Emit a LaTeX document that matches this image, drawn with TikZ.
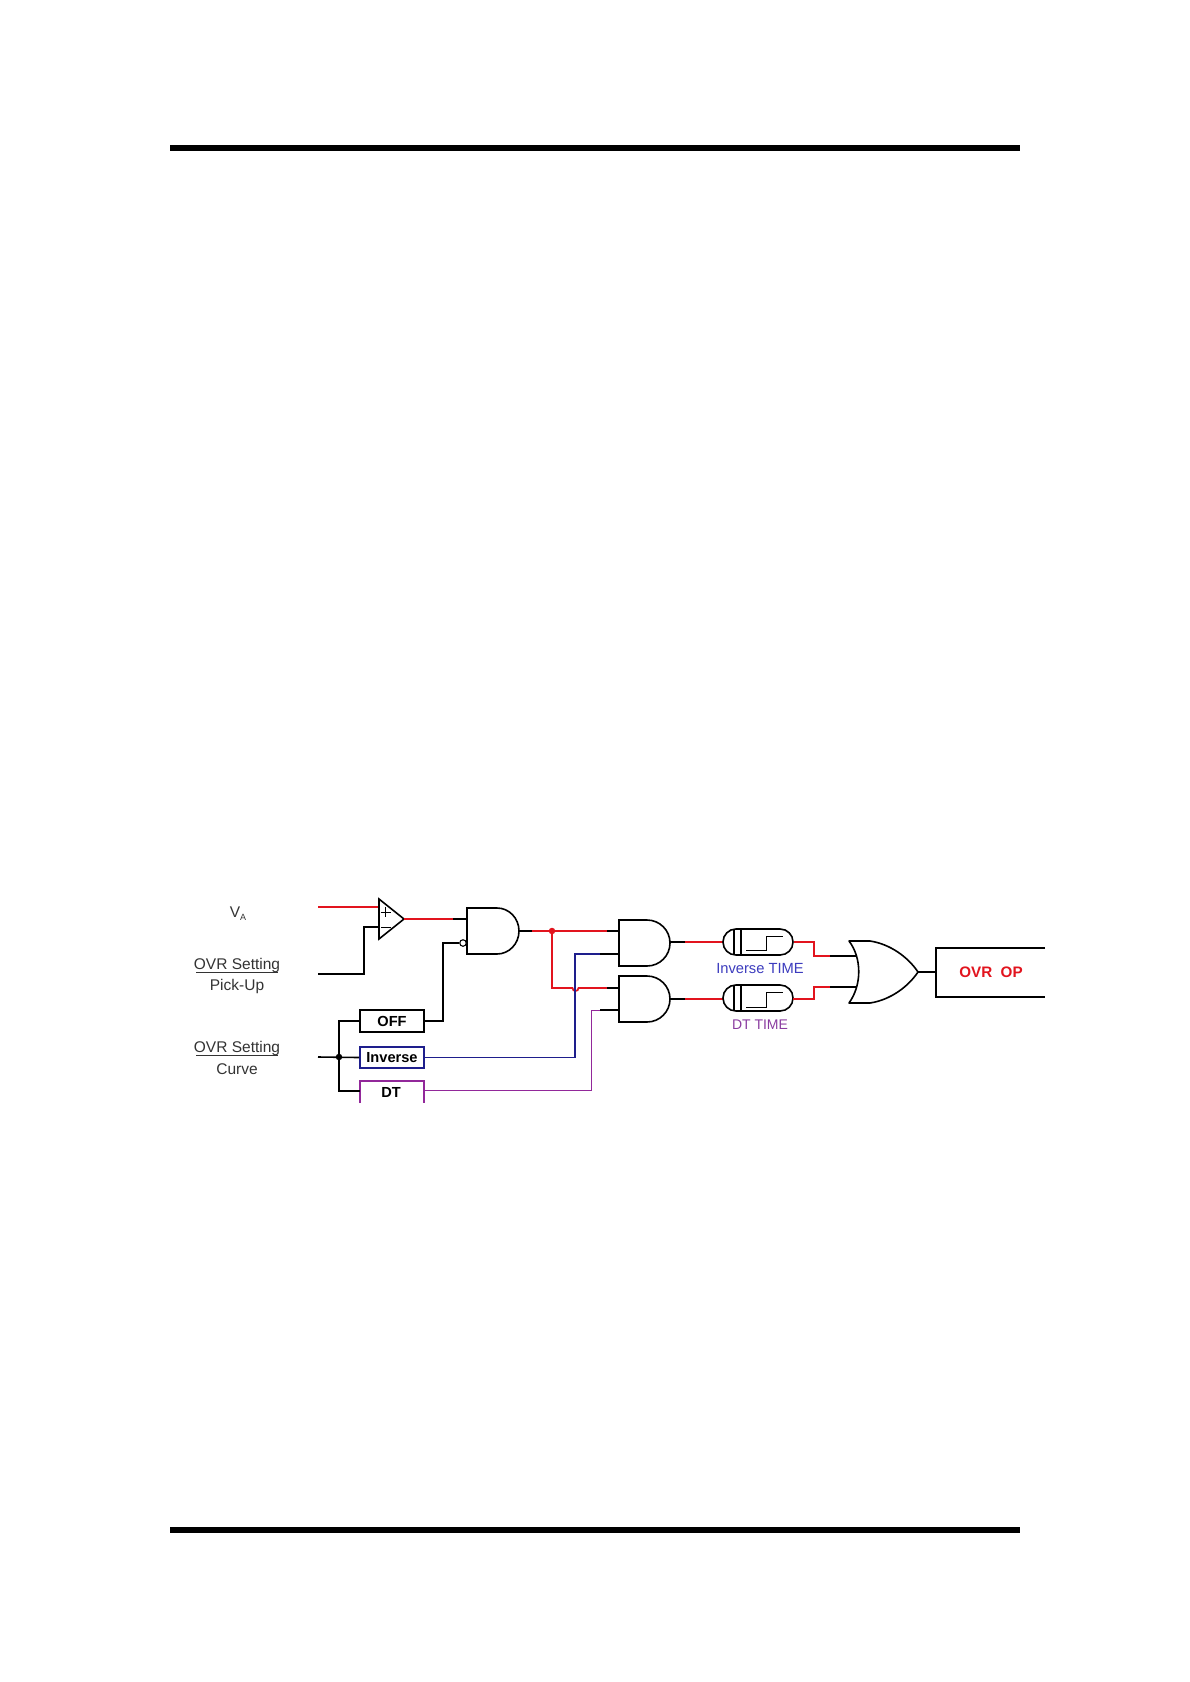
\documentclass[tikz,border=0pt]{standalone}
\usepackage{fontspec}
\setmainfont{Liberation Sans}
\definecolor{wred}{HTML}{E2141E}
\definecolor{wnavy}{HTML}{1E1E8C}
\definecolor{wpurp}{HTML}{92289A}
\definecolor{tblue}{HTML}{3C3CBE}
\definecolor{tpurp}{HTML}{8A3CA0}
\definecolor{tgray}{HTML}{333333}
\tikzset{
  blk/.style={draw=black,line width=1.6pt,line join=miter},
  redw/.style={draw=wred,line width=1.7pt},
  navyw/.style={draw=wnavy,line width=1.6pt},
  purpw/.style={draw=wpurp,line width=1pt},
  gate/.style={draw=black,line width=1.6pt,fill=white},
  selbox/.style={draw=#1,line width=1.6pt,fill=white,minimum width=64pt,minimum height=21.5pt,inner sep=0pt,font=\bfseries\fontsize{14.6}{16}\selectfont,text=black},
  lbl/.style={inner sep=0pt,text=tgray,font=\fontsize{15.5}{18}\selectfont},
  bar/.style={fill=black,draw=none},
  jdot/.style={circle,fill=#1,draw=none,minimum size=6.5pt,inner sep=0pt},
  timer/.style={draw=black,line width=1.6pt,rounded corners=12.9pt,minimum width=70pt,minimum height=26pt,inner sep=0pt},
  tick/.style={draw=black,line width=1.3pt},
}
\begin{document}
\begin{tikzpicture}[x=1pt,y=-1pt]
\useasboundingbox (0,0) rectangle (1190,1682);
\fill[white] (0,0) rectangle (1190,1682);
% page rules
\path[bar] (170,145) rectangle (1020,151);
\path[bar] (170,1527) rectangle (1020,1533);

% named pins
\coordinate (vaIn) at (318,907);
\coordinate (puIn) at (318,974);
\coordinate (cvIn) at (318,1057);
\coordinate (cmpP) at (379,907);
\coordinate (cmpN) at (379,927);
\coordinate (cmpO) at (404,919);
\coordinate (a1A) at (467,919);
\coordinate (a1B) at (467,943);
\coordinate (a1O) at (519,931);
\coordinate (a2A) at (619,931);
\coordinate (a2B) at (619,954);
\coordinate (a2O) at (670,942);
\coordinate (a3A) at (619,988);
\coordinate (a3B) at (619,1010);
\coordinate (a3O) at (670,999);
\coordinate (orA) at (857,956);
\coordinate (orB) at (857,987);
\coordinate (orO) at (918,972);

% selector boxes
\node[selbox=black] (off) at (392,1021) {OFF};
\node[selbox=wnavy] (inv) at (392,1057.5) {Inverse};
% DT box: bottom edge left open
\node[inner sep=0pt,font=\bfseries\fontsize{14.6}{16}\selectfont] (dt) at (391,1092) {DT};
\draw[draw=wpurp,line width=1.6pt] (360,1103) -- (360,1081) -- (424,1081) -- (424,1103);
\coordinate (dtL) at (360,1091);
\coordinate (dtR) at (424,1090.5);

% input wiring
\draw[redw] (vaIn) -- (cmpP);
\draw[blk] (puIn) -| (364,927) -- (cmpN);
\draw[blk] (cvIn) -- (inv.west);
\draw[blk] (off.west) -- (339,1021) -- (339,1091) -- (dtL);
\node[jdot=black] (bus) at (339,1057) {};

% comparator
\draw[gate,line join=miter] (379,899) -- (cmpO) -- (379,939) -- cycle;
\draw[line width=1pt] (380.5,912) -- (390.5,912) (385.5,907) -- (385.5,917);
\draw[line width=1pt] (381,927) -- (391,927);

% comparator to AND 1
\draw[redw] (cmpO) -- (453,919);
\draw[blk] (453,919) -- (a1A);
% OFF to inverted input
\draw[blk] (off.east) -- (443,1021) -- (443,943) -- (459,943);

% AND 1
\draw[gate] (467,908) -- (497,908) arc[start angle=-90,end angle=90,x radius=22,y radius=23] -- (467,954) -- cycle;
\node[circle,draw=black,line width=1.1pt,fill=white,minimum size=6.5pt,inner sep=0pt] (bub) at (463,943) {};

% AND 1 output and branch
\draw[blk] (a1O) -- (532,931);
\draw[redw] (532,931) -- (607,931);
\draw[blk] (607,931) -- (a2A);
\draw[redw] (552,931) -- (552,988) -- (572.5,988) arc[start angle=180,end angle=0,radius=3] -- (607,988);
\draw[blk] (607,988) -- (a3A);
\node[jdot=wred] (rj) at (552,931) {};

% navy line
\draw[navyw] (inv.east) -- (575,1057.5) -- (575,954) -- (600,954);
\draw[blk] (600,954) -- (a2B);
% purple line
\draw[purpw] (dtR) -- (591.5,1090.5) -- (591.5,1010) -- (600,1010);
\draw[blk] (600,1010) -- (a3B);

% AND 2, AND 3
\draw[gate] (619,920) -- (647,920) arc[start angle=-90,end angle=90,x radius=23,y radius=23] -- (619,966) -- cycle;
\draw[gate] (619,976) -- (647,976) arc[start angle=-90,end angle=90,x radius=23,y radius=23] -- (619,1022) -- cycle;

% outputs to timers
\draw[blk] (a2O) -- (685,942);
\draw[redw] (685,942) -- (723,942);
\draw[blk] (a3O) -- (685,999);
\draw[redw] (685,999) -- (723,999);

% timers
\node[timer] (t1) at (758,942) {};
\node[timer] (t2) at (758,998) {};
\draw[tick] (734,929) -- (734,955) (741,929) -- (741,955);
\draw[tick] (734,985) -- (734,1011) (741,985) -- (741,1011);
\draw[line width=1pt] (746,950.5) -- (766,950.5) -- (766,936.5) -- (783,936.5);
\draw[line width=1pt] (746,1007.5) -- (766,1007.5) -- (766,992.5) -- (783,992.5);
\node[inner sep=0pt,text=tblue,font=\fontsize{14.7}{17}\selectfont] (t1l) at (760,969) {Inverse TIME};
\node[inner sep=0pt,text=tpurp,font=\fontsize{14}{17}\selectfont] (t2l) at (760,1025) {DT TIME};

% timers to OR
\draw[redw] (t1.east) -- (814,942) -- (814,956) -- (830,956);
\draw[blk] (830,956) -- (orA);
\draw[redw] (793,999) -- (814,999) -- (814,987) -- (830,987);
\draw[blk] (830,987) -- (orB);

% OR gate
\draw[gate,line join=round] (849,941) -- (870,941) .. controls (890,944) and (908,957) .. (orO) .. controls (908,987) and (890,1000) .. (870,1003) -- (849,1003) .. controls (862,985) and (862,958) .. cycle;

% output
\draw[blk] (orO) -- (936,972);
\draw[blk] (1045,948) -- (936,948) -- (936,997) -- (1045,997);
\node[inner sep=0pt,text=wred,font=\bfseries\fontsize{15.2}{18}\selectfont] (op) at (991,972) {OVR\ \ OP};

% left labels
\node[lbl] (va) at (238,914) {V\raisebox{-3pt}{\fontsize{9}{10}\selectfont A}};
\node[lbl] (s1) at (237,965) {OVR Setting};
\draw[draw=tgray,line width=0.9pt] (196,972.5) -- (278,972.5);
\node[lbl] (pu) at (237,986) {Pick-Up};
\node[lbl] (s2) at (237,1048) {OVR Setting};
\draw[draw=tgray,line width=0.9pt] (196,1055.5) -- (278,1055.5);
\node[lbl] (cv) at (237,1069) {Curve};
\end{tikzpicture}
\end{document}
